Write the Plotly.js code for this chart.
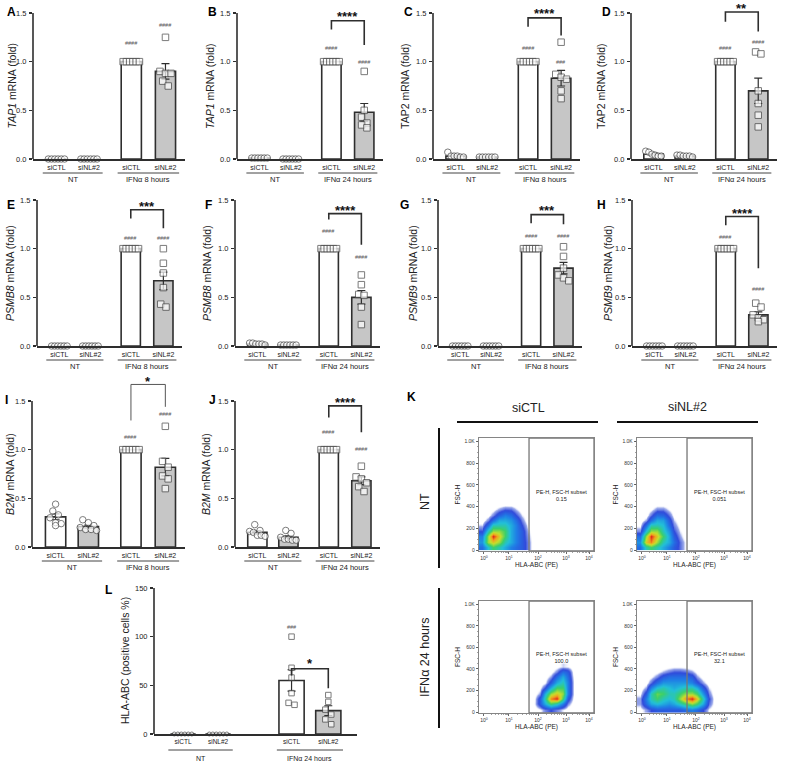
<!DOCTYPE html>
<html><head><meta charset="utf-8">
<script src="https://cdn.plot.ly/plotly-3.0.1.min.js"></script>
<style>html,body{margin:0;padding:0;background:#fff}#chart{width:785px;height:761px}</style>
</head><body><div id="chart"></div>
<script>
// ---------------- DATA ----------------
const groupLabels = ['siCTL', 'siNL#2', 'siCTL', 'siNL#2'];

const A_points = [[0,0,0,0,0,0],[0,0,0,0,0,0],[1,1,1,1,1,1],[1.25,0.9,0.88,0.88,0.8,0.75]];
const A_mean = [0,0,1,0.9];           const A_sem = [0,0,0,0.08];
const B_points = [[0.01,0.01,0.01,0.01,0.01,0.01],[0,0,0,0,0,0],[1,1,1,1,1,1],[0.9,0.5,0.43,0.37,0.35,0.32]];
const B_mean = [0.01,0,1,0.48];        const B_sem = [0,0,0,0.09];
const C_points = [[0.07,0.03,0.03,0.03,0.02,0.02],[0.02,0.02,0.02,0.02,0.02,0.02],[1,1,1,1,1,1],[1.2,0.87,0.84,0.82,0.7,0.62]];
const C_mean = [0.03,0.02,1,0.83];     const C_sem = [0.01,0,0,0.08];
const D_points = [[0.08,0.07,0.05,0.04,0.03,0.03],[0.04,0.04,0.03,0.03,0.03,0.02],[1,1,1,1,1,1],[1.1,1.08,0.7,0.57,0.45,0.33]];
const D_mean = [0.05,0.03,1,0.7];      const D_sem = [0.01,0.005,0,0.13];
const E_points = [[0,0,0,0,0,0],[0,0,0,0,0,0],[1,1,1,1,1,1],[1.0,0.85,0.75,0.6,0.43,0.4]];
const E_mean = [0,0,1,0.67];           const E_sem = [0,0,0,0.09];
const F_points = [[0.03,0.03,0.02,0.02,0.02,0.01],[0.01,0.01,0.01,0.01,0.01,0.01],[1,1,1,1,1,1],[0.73,0.63,0.53,0.52,0.4,0.22]];
const F_mean = [0.02,0.01,1,0.5];      const F_sem = [0,0,0,0.07];
const G_points = [[0,0,0,0,0,0],[0,0,0,0,0,0],[1,1,1,1,1,1],[1.02,0.92,0.8,0.73,0.7,0.67]];
const G_mean = [0,0,1,0.8];            const G_sem = [0,0,0,0.06];
const H_points = [[0,0,0,0,0,0],[0,0,0,0,0,0],[1,1,1,1,1,1],[0.44,0.4,0.32,0.29,0.27,0.25]];
const H_mean = [0,0,1,0.32];           const H_sem = [0,0,0,0.03];
const I_points = [[0.44,0.37,0.33,0.3,0.25,0.24,0.22],[0.28,0.25,0.22,0.2,0.18,0.18,0.17],[1,1,1,1,1,1],[1.24,0.88,0.82,0.73,0.7,0.6]];
const I_mean = [0.31,0.21,1,0.82];     const I_sem = [0.03,0.015,0,0.09];
const J_points = [[0.23,0.17,0.16,0.15,0.12,0.12,0.11],[0.17,0.14,0.1,0.08,0.08,0.07,0.07],[1,1,1,1,1,1],[0.83,0.72,0.7,0.66,0.62,0.57]];
const J_mean = [0.15,0.1,1,0.68];      const J_sem = [0.015,0.015,0,0.04];
const L_points = [[0,0,0,0,0,0],[0,0,0,0,0,0],[100,68,58,42,32,30],[40,33,25,20,15,10]];
const L_mean = [0,0,55,24];            const L_sem = [0,0,11,5];

// Flow cytometry (panel K): density estimates on a coarse grid
const flowXTickText = ['10<sup>0</sup>','10<sup>1</sup>','10<sup>2</sup>','10<sup>3</sup>','10<sup>4</sup>'];
const flowYTickVals = [0,200,400,600,800,1000];
const flowYTickText = ['0','200','400','600','800','1.0K'];
const K_yc = [25,75,125,175,225,275,325,375,425];
const K_xc_NT = [2.5,7.5,12.5,17.5,22.5,27.5,32.5,37.5,42.5,47.5];
const K_xc_IFN_CTL = [47.5,52.5,57.5,62.5,67.5,72.5,77.5,82.5,87.5];
const K_xc_IFN_NL = [2.5,7.5,12.5,17.5,22.5,27.5,32.5,37.5,42.5,47.5,52.5,57.5,62.5,67.5];
const K_NT_siCTL = [
 [2.5,4.5,6,5,4,3,2.5,2,1,0],
 [3.5,7,8,7,5,4,3,2,1,0],
 [3,7,10,8,6,4,3,2,0.8,0],
 [1.5,5,7,7,6,4,3,2,0.6,0],
 [0.6,2.5,5,5,5,4,3,1.5,0.3,0],
 [0,1,2.5,4,4,3.5,2.5,1,0,0],
 [0,0.2,1,2.2,3,2.5,1.5,0.5,0,0],
 [0,0,0.2,0.8,1.3,1.2,0.6,0,0,0],
 [0,0,0,0,0.1,0.1,0,0,0,0]];
const K_NT_siNL = [
 [2.5,5,6,5,4,3,2,1.2,0.3,0],
 [3.5,8,9,7,5,4,2.5,1.2,0.3,0],
 [2.5,7,10,8,6,4,2,0.8,0,0],
 [1,4.5,7,7,5,3.5,1.5,0.5,0,0],
 [0.3,2.5,5,5,4.5,2.5,1,0.2,0,0],
 [0,0.8,2.5,4,3.8,2,0.6,0,0,0],
 [0,0.1,1.2,2.5,2.3,1.2,0.2,0,0,0],
 [0,0,0.3,1,1,0.4,0,0,0,0],
 [0,0,0,0.1,0.1,0,0,0,0,0]];
const K_IFN_siCTL = [
 [0,0.3,1,1.5,1,0.5,0,0,0],
 [0.2,2,4,6,5,3,1,0,0],
 [0.1,2,5,9,10,6,2,0.2,0],
 [0,0.8,4,7,8,7,3,0.3,0],
 [0,0.2,1.5,4,6,6,3,0.3,0],
 [0,0,0.3,2,4,5,3,0.3,0],
 [0,0,0,0.8,2.5,4,2.5,0.2,0],
 [0,0,0,0.1,1,2.5,2,0,0],
 [0,0,0,0,0.2,0.6,0.4,0,0]];
const K_IFN_siNL = [
 [0.2,0.8,1.5,2,2,2,2,2,2.5,3,2.5,1.5,0.4,0],
 [0.8,2.5,4,4.5,4,3.5,4,5,6,7,6,4,1.2,0.1],
 [0.8,3,5,6,5,4.5,5,7,9,10,8,5,1.5,0.1],
 [0.3,2,5,6.5,6,5,5,6,7,7,6,3.5,1,0],
 [0,0.8,3,4.5,5,4.5,4,4.5,5,5,4,2,0.5,0],
 [0,0.1,1.2,2.5,3.5,3.5,3.5,3.5,3.5,3,1.8,0.8,0,0],
 [0,0,0.3,1,2,2.5,2.5,2.5,2.5,2,0.8,0.1,0,0],
 [0,0,0,0.2,0.7,1.1,1.4,1.4,1.2,0.8,0.2,0,0,0],
 [0,0,0,0,0,0.2,0.3,0.3,0.2,0,0,0,0,0]];
const K_subsetPct = ['0.15','0.051','100.0','32.1'];

// ---------------- LAYOUT HELPERS ----------------
const W = 785, H = 761;
const FONT = 'Liberation Sans, Arial, sans-serif';
const fx = p => p / W;
const fy = p => 1 - p / H;
const INK = '#2e2e2e';

const barFill = ['#ffffff', '#c6c6c6', '#ffffff', '#c6c6c6'];
const symbols = ['circle', 'circle', 'square', 'square'];

const panels = [
 {letter:'A', lp:[5,12],  box:[33,185,13,159],  tx:11.5,  title:'<i>TAP1</i> mRNA (fold)', time:'IFNα 8 hours',  pts:A_points, mean:A_mean, sem:A_sem, hash:['','','####','####'], hashY:[0,0,1.19,1.38], sig:null},
 {letter:'B', lp:[206,12], box:[237,383,13,159], tx:210, title:'<i>TAP1</i> mRNA (fold)', time:'IFNα 24 hours', pts:B_points, mean:B_mean, sem:B_sem, hash:['','','####','####'], hashY:[0,0,1.14,1.0], sig:{t:'****', yl:1.33, yt:1.42, yr:1.17, ys:1.50}},
 {letter:'C', lp:[402,12], box:[433,580,13,159], tx:405, title:'TAP2 mRNA (fold)', time:'IFNα 8 hours', pts:C_points, mean:C_mean, sem:C_sem, hash:['','','####','###'], hashY:[0,0,1.14,1.0], sig:{t:'****', yl:1.36, yt:1.45, yr:1.27, ys:1.53}},
 {letter:'D', lp:[600,12], box:[631,777,13,159], tx:601, title:'TAP2 mRNA (fold)', time:'IFNα 24 hours', pts:D_points, mean:D_mean, sem:D_sem, hash:['','','####','####'], hashY:[0,0,1.14,1.2], sig:{t:'**', yl:1.41, yt:1.51, yr:1.31, ys:1.58}},
 {letter:'E', lp:[5,205],  box:[37,182,200,346], tx:10,   title:'<i>PSMB8</i> mRNA (fold)', time:'IFNα 8 hours', pts:E_points, mean:E_mean, sem:E_sem, hash:['','','####','####'], hashY:[0,0,1.11,1.11], sig:{t:'***', yl:1.31, yt:1.40, yr:1.21, ys:1.47}},
 {letter:'F', lp:[203,205], box:[235,380,200,346], tx:207, title:'<i>PSMB8</i> mRNA (fold)', time:'IFNα 24 hours', pts:F_points, mean:F_mean, sem:F_sem, hash:['','','####','####'], hashY:[0,0,1.18,0.91], sig:{t:'****', yl:1.30, yt:1.36, yr:1.04, ys:1.43}},
 {letter:'G', lp:[398,205], box:[438,582,200,346], tx:413, title:'<i>PSMB9</i> mRNA (fold)', time:'IFNα 8 hours', pts:G_points, mean:G_mean, sem:G_sem, hash:['','','####','####'], hashY:[0,0,1.13,1.13], sig:{t:'***', yl:1.26, yt:1.35, yr:1.25, ys:1.43}},
 {letter:'H', lp:[595,205], box:[632,777,200,346], tx:608, title:'<i>PSMB9</i> mRNA (fold)', time:'IFNα 24 hours', pts:H_points, mean:H_mean, sem:H_sem, hash:['','','####','####'], hashY:[0,0,1.12,0.59], sig:{t:'****', yl:1.24, yt:1.33, yr:0.80, ys:1.40}},
 {letter:'I', lp:[3,400],  box:[32,185,401,547], tx:10,   title:'<i>B2M</i> mRNA (fold)', time:'IFNα 8 hours', pts:I_points, mean:I_mean, sem:I_sem, hash:['','','####','####'], hashY:[0,0,1.13,1.37], sig:{t:'*', yl:1.30, yt:1.67, yr:1.44, ys:1.74, thin:true}, yTop:1.8},
 {letter:'J', lp:[207,400], box:[235,380,401,547], tx:206, title:'<i>B2M</i> mRNA (fold)', time:'IFNα 24 hours', pts:J_points, mean:J_mean, sem:J_sem, hash:['','','####','####'], hashY:[0,0,1.18,1.01], sig:{t:'****', yl:1.33, yt:1.45, yr:1.18, ys:1.52}},
 {letter:'L', lp:[103,590], box:[154,357,588,734], tx:125, title:'HLA-ABC (positive cells %)', time:'IFNα 24 hours', pts:L_points, mean:L_mean, sem:L_sem, hash:['','','###',''], hashY:[0,0,110,0], sig:{t:'*', yl:60, yt:67, yr:47, ys:76}, L:true}
];

const data = [], shapes = [], annotations = [];
const layout = {
  width: W, height: H, margin: {l:0, r:0, t:0, b:0},
  paper_bgcolor: '#fff', plot_bgcolor: 'rgba(0,0,0,0)',
  font: {family: FONT, color: '#222'}, showlegend: false
};

function swarm(vals, thr, step, maxSpan) {
  const idx = vals.map((v, i) => i).sort((a, b) => vals[b] - vals[a]);
  const off = new Array(vals.length).fill(0);
  let i = 0;
  while (i < idx.length) {
    let j = i;
    while (j + 1 < idx.length && vals[idx[i]] - vals[idx[j + 1]] < thr) j++;
    const k = j - i + 1;
    const st = k > 1 ? Math.min(step, maxSpan / (k - 1)) : 0;
    for (let m = 0; m < k; m++) off[idx[i + m]] = (m - (k - 1) / 2) * st;
    i = j + 1;
  }
  return off;
}

let axN = 0;
function nextAxes() {
  axN++;
  const s = axN === 1 ? '' : String(axN);
  return {xk: 'xaxis' + s, yk: 'yaxis' + s, x: 'x' + s, y: 'y' + s};
}

panels.forEach(p => {
  const ax = nextAxes();
  const [L, R, P15, P0] = p.box;
  const isL = !!p.L;
  const scaleMax = isL ? 150 : 1.5;
  const yTop = p.yTop || (isL ? 165 : 1.62);
  const s = (P0 - P15) / scaleMax;
  const xPos = isL ? [0, 1, 3.1, 4.15] : [0, 1, 2.3, 3.35];
  const xRange = isL ? [-0.83, 4.97] : [-0.72, 3.95];
  const barW = isL ? 0.72 : 0.62;

  layout[ax.xk] = {domain: [fx(L), fx(R)], range: xRange, anchor: ax.y, showline: true, linecolor: INK, linewidth: 1.6,
    ticks: '', tickvals: xPos, ticktext: groupLabels, tickfont: {size: isL ? 6.5 : 7, color: '#222'}, ticklabelstandoff: 1,
    showgrid: false, zeroline: false, fixedrange: true};
  layout[ax.yk] = {domain: [fy(P0), fy(P0 - yTop * s)], range: [0, yTop], anchor: ax.x, showline: false,
    ticks: 'outside', ticklen: 3, tickwidth: 1.2, tickcolor: INK,
    tickvals: isL ? [0, 50, 100, 150] : [0, 0.5, 1.0, 1.5], tickformat: isL ? 'd' : '.1f',
    tickfont: {size: 7.5, color: '#222'}, ticklabelstandoff: 1, showgrid: false, zeroline: false, fixedrange: true};
  shapes.push({type: 'line', xref: ax.x + ' domain', yref: ax.y, x0: 0, x1: 0, y0: 0, y1: scaleMax, line: {color: INK, width: 1.6}});

  data.push({type: 'bar', x: xPos, y: p.mean, xaxis: ax.x, yaxis: ax.y, width: barW,
    marker: {color: barFill, line: {color: INK, width: 1.6}},
    error_y: {type: 'data', array: p.sem, visible: true, color: INK, thickness: 1.2, width: 4},
    hoverinfo: 'skip'});

  const px = [], py = [], sym = [], sz = [];
  p.pts.forEach((vals, g) => {
    const off = swarm(vals, scaleMax * 0.045, 0.17, 0.5);
    vals.forEach((v, i) => {
      px.push(xPos[g] + off[i]); py.push(v); sym.push(symbols[g]);
      sz.push(isL ? (g < 2 ? 4 : 5.5) : 6.5);
    });
  });
  data.push({type: 'scatter', mode: 'markers', x: px, y: py, xaxis: ax.x, yaxis: ax.y, cliponaxis: false,
    marker: {symbol: sym, size: sz, color: '#fff', line: {color: '#444', width: 1}}, hoverinfo: 'skip'});

  // hashes
  p.hash.forEach((h, g) => {
    if (!h) return;
    annotations.push({xref: ax.x, yref: ax.y, x: xPos[g], y: p.hashY[g], text: h, showarrow: false,
      font: {size: 5.5, color: '#555'}, yanchor: 'middle'});
  });
  // significance bracket
  if (p.sig) {
    const g = p.sig;
    shapes.push({type: 'path', xref: ax.x, yref: ax.y,
      path: `M ${xPos[2]},${g.yl} L ${xPos[2]},${g.yt} L ${xPos[3]},${g.yt} L ${xPos[3]},${g.yr}`,
      line: {color: g.thin ? '#555' : INK, width: g.thin ? 1 : 1.6}});
    annotations.push({xref: ax.x, yref: ax.y, x: (xPos[2] + xPos[3]) / 2, y: g.ys, text: '<b>' + g.t + '</b>', showarrow: false,
      font: {size: 13, color: '#111'}, yanchor: 'middle', yshift: -3.5});
  }
  // group underline and labels
  const lineY = fy(P0 + (isL ? 16 : 14));
  const labY = fy(P0 + (isL ? 24 : 20));
  [[xPos[0] - 0.42, xPos[1] + 0.42, 'NT'], [xPos[2] - 0.42, xPos[3] + 0.42, p.time]].forEach(([a, b, t]) => {
    shapes.push({type: 'line', xref: ax.x, yref: 'paper', x0: a, x1: b, y0: lineY, y1: lineY, line: {color: '#444', width: 1}});
    annotations.push({xref: ax.x, yref: 'paper', x: (a + b) / 2, y: labY, text: t, showarrow: false,
      font: {size: isL ? 7 : 7.5, color: '#222'}, yanchor: 'middle'});
  });
  // y title
  annotations.push({xref: 'paper', yref: 'paper', x: fx(p.tx), y: fy(P0 - 0.5 * scaleMax * s), text: p.title,
    textangle: -90, showarrow: false, font: {size: 10.5, color: '#222'}, xanchor: 'center', yanchor: 'middle'});
  // panel letter
  annotations.push({xref: 'paper', yref: 'paper', x: fx(p.lp[0]), y: fy(p.lp[1]), text: '<b>' + p.letter + '</b>',
    showarrow: false, font: {size: 12, color: '#000'}, xanchor: 'left', yanchor: 'middle'});
});

// ---------------- PANEL K (flow cytometry) ----------------
const decadePos = [4.3, 26, 51.3, 75.7, 95.7];
const gateX = 43.5;
const minorX = [];
for (let d = 0; d < 4; d++) for (let k = 2; k <= 9; k++) minorX.push(decadePos[d] + Math.log10(k) * (decadePos[d + 1] - decadePos[d]));
const flowColors = [[0,'rgba(255,255,255,0)'],[0.03,'rgba(255,255,255,0)'],[0.07,'rgba(40,70,210,0.45)'],[0.15,'rgba(25,55,215,0.9)'],
  [0.3,'#1f7fe6'],[0.45,'#22c0d8'],[0.6,'#3ccf6a'],[0.75,'#c6df2c'],[0.87,'#f2a21e'],[1,'#e2231a']];

const flowPlots = [
  {box: [479, 594, 438, 551], xc: K_xc_NT, z: K_NT_siCTL, pct: K_subsetPct[0]},
  {box: [637, 752, 438, 551], xc: K_xc_NT, z: K_NT_siNL, pct: K_subsetPct[1]},
  {box: [479, 594, 601, 713], xc: K_xc_IFN_CTL, z: K_IFN_siCTL, pct: K_subsetPct[2]},
  {box: [637, 752, 601, 713], xc: K_xc_IFN_NL, z: K_IFN_siNL, pct: K_subsetPct[3]}
];
flowPlots.forEach(f => {
  const ax = nextAxes();
  const [L, R, T, B] = f.box;
  layout[ax.xk] = {domain: [fx(L), fx(R)], range: [0, 100], anchor: ax.y, showline: true, mirror: true, linecolor: '#666', linewidth: 0.8,
    ticks: 'outside', ticklen: 2.5, tickwidth: 0.8, tickcolor: '#444', tickvals: decadePos, ticktext: flowXTickText,
    minor: {tickvals: minorX, ticks: 'outside', ticklen: 1.5, tickcolor: '#666', tickwidth: 0.6},
    tickfont: {size: 5, color: '#333'}, showgrid: false, zeroline: false,
    title: {text: 'HLA-ABC (PE)', font: {size: 6.5, color: '#222'}, standoff: 2}};
  layout[ax.yk] = {domain: [fy(B), fy(T)], range: [-8, 1030], anchor: ax.x, showline: true, mirror: true, linecolor: '#666', linewidth: 0.8,
    ticks: 'outside', ticklen: 2.5, tickwidth: 0.8, tickcolor: '#444', tickvals: flowYTickVals, ticktext: flowYTickText,
    minor: {dtick: 50, ticks: 'outside', ticklen: 1.5, tickcolor: '#666', tickwidth: 0.6},
    tickfont: {size: 5, color: '#333'}, showgrid: false, zeroline: false,
    title: {text: 'FSC-H', font: {size: 6.5, color: '#222'}, standoff: 3}};
  data.push({type: 'heatmap', x: f.xc, y: K_yc, z: f.z, xaxis: ax.x, yaxis: ax.y, zsmooth: 'best', zmin: 0, zmax: 10,
    colorscale: flowColors, showscale: false, hoverinfo: 'skip'});
  shapes.push({type: 'rect', xref: ax.x, yref: ax.y, x0: gateX, x1: 100, y0: -8, y1: 1030, line: {color: '#777', width: 1.3}});
  annotations.push({xref: ax.x, yref: ax.y, x: 71.5, y: 505, text: 'PE-H, FSC-H subset<br>' + f.pct, showarrow: false,
    font: {size: 5.5, color: '#222'}, yanchor: 'middle'});
});

// K headers
const kText = (x, y, t, o) => annotations.push(Object.assign({xref: 'paper', yref: 'paper', x: fx(x), y: fy(y), text: t, showarrow: false,
  font: {size: 12.5, color: '#222'}, xanchor: 'center', yanchor: 'middle'}, o || {}));
kText(528, 408, 'siCTL');
kText(687, 407, 'siNL#2');
kText(425, 502, 'NT', {textangle: -90});
kText(425, 658, 'IFNα 24 hours', {textangle: -90});
kText(405, 397, '<b>K</b>', {font: {size: 12, color: '#000'}, xanchor: 'left'});
[[457, 598, 422, 422], [617, 758, 422, 422], [439, 439, 428, 568], [439, 439, 588, 728]].forEach(([x0, x1, y0, y1]) =>
  shapes.push({type: 'line', xref: 'paper', yref: 'paper', x0: fx(x0), x1: fx(x1), y0: fy(y0), y1: fy(y1), line: {color: '#111', width: 2}}));

layout.shapes = shapes;
layout.annotations = annotations;
Plotly.newPlot('chart', data, layout, {displayModeBar: false, staticPlot: true});
</script></body></html>
